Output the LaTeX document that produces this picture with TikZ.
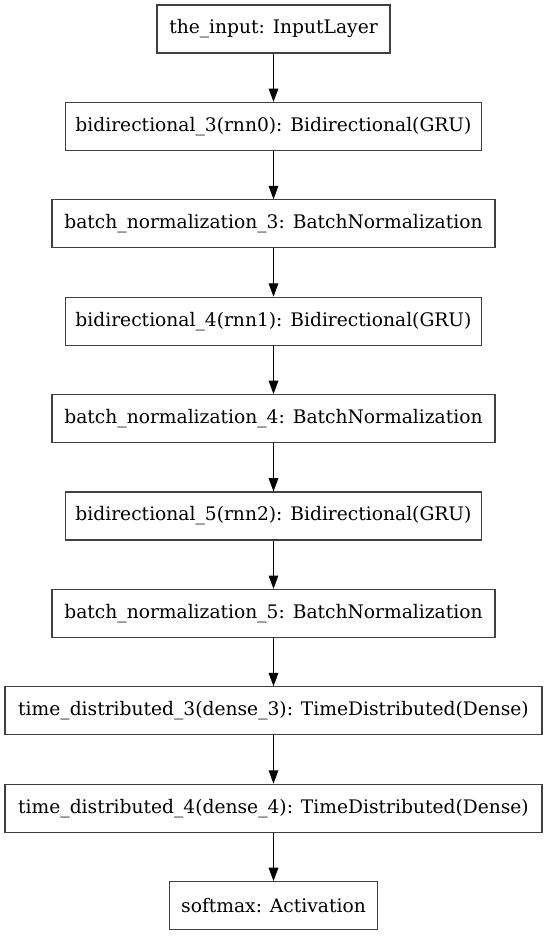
\documentclass[tikz,border=0pt]{standalone}
\usepackage{fontspec}
\setmainfont{DejaVu Serif}
\usetikzlibrary{arrows.meta}
\begin{document}
\begin{tikzpicture}[x=0.75pt,y=-0.75pt,
  layer/.style={draw=black!75, line width=0.8pt, minimum height=48*0.75pt, inner sep=0pt, font=\fontsize{14pt}{16pt}\selectfont, fill=white},
  conn/.style={line width=0.8pt, -{Triangle[length=10pt,width=7.2pt]}}]
\useasboundingbox (0,0) rectangle (547,936);
\def\cx{273.5}
\node[layer, minimum width=233*0.75pt] (n0) at (\cx, 5+24) {the\_input: InputLayer};
\node[layer, minimum width=416*0.75pt] (n1) at (\cx, 5+97.4+24) {bidirectional\_3(rnn0): Bidirectional(GRU)};
\node[layer, minimum width=443*0.75pt] (n2) at (\cx, 5+2*97.4+24) {batch\_normalization\_3: BatchNormalization};
\node[layer, minimum width=416*0.75pt] (n3) at (\cx, 5+3*97.4+24) {bidirectional\_4(rnn1): Bidirectional(GRU)};
\node[layer, minimum width=443*0.75pt] (n4) at (\cx, 5+4*97.4+24) {batch\_normalization\_4: BatchNormalization};
\node[layer, minimum width=416*0.75pt] (n5) at (\cx, 5+5*97.4+24) {bidirectional\_5(rnn2): Bidirectional(GRU)};
\node[layer, minimum width=443*0.75pt] (n6) at (\cx, 5+6*97.4+24) {batch\_normalization\_5: BatchNormalization};
\node[layer, minimum width=537*0.75pt] (n7) at (\cx, 5+7*97.4+24) {time\_distributed\_3(dense\_3): TimeDistributed(Dense)};
\node[layer, minimum width=537*0.75pt] (n8) at (\cx, 5+8*97.4+24) {time\_distributed\_4(dense\_4): TimeDistributed(Dense)};
\node[layer, minimum width=208*0.75pt] (n9) at (\cx, 5+9*97.4+24) {softmax: Activation};
\foreach \a/\b in {n0/n1,n1/n2,n2/n3,n3/n4,n4/n5,n5/n6,n6/n7,n7/n8,n8/n9}
  \draw[conn] (\a.south) -- (\b.north);
\end{tikzpicture}
\end{document}
